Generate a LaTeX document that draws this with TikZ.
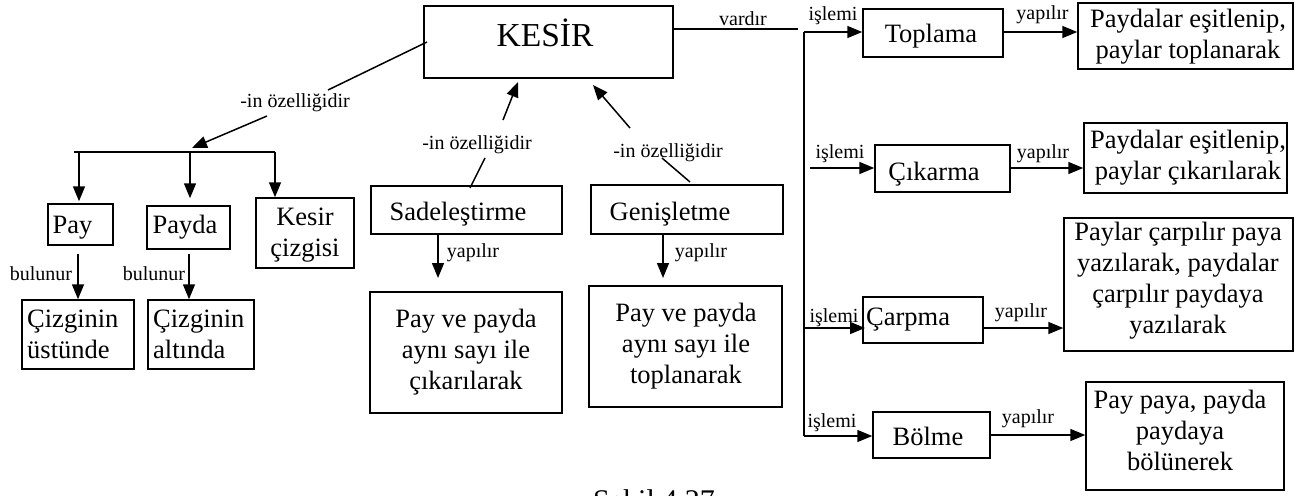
\documentclass[tikz,border=0pt]{standalone}
\usepackage{fontspec}
\setmainfont{Liberation Serif}
\usetikzlibrary{arrows.meta}
\newcommand\mtxt{\fontsize{26.5}{31}\selectfont}
\newcommand\ltxt{\fontsize{20}{24}\selectfont}
\newcommand\ktxt{\fontsize{33.5}{40}\selectfont}
\tikzset{
  box/.style={draw, line width=1.5pt, inner sep=0pt},
  conn/.style={line width=1.5pt},
  arr/.style={conn, -{Triangle[length=15pt,width=12pt]}},
  lbl/.style={font=\ltxt, inner sep=0pt, anchor=base},
  mt/.style={font=\mtxt, inner sep=0pt, anchor=base},
  ml/.style={font=\mtxt, inner sep=0pt, anchor=north, align=center},
}
\begin{document}
\begin{tikzpicture}[x=1pt,y=-1pt]
\useasboundingbox (0,0) rectangle (1316,495);
% boxes
\node[box, minimum width=249pt, minimum height=72pt] (kesir) at (548.5,42) {};
\node[box, minimum width=65pt, minimum height=41pt] (pay) at (80.5,224.5) {};
\node[box, minimum width=83pt, minimum height=43pt] (payda) at (188.5,227.5) {};
\node[box, minimum width=98pt, minimum height=70pt] (cizgi) at (305,233) {};
\node[box, minimum width=112pt, minimum height=69pt] (ustunde) at (78,334.5) {};
\node[box, minimum width=106pt, minimum height=69pt] (altinda) at (201,334.5) {};
\node[box, minimum width=191pt, minimum height=48pt] (sade) at (466.5,210) {};
\node[box, minimum width=192pt, minimum height=49pt] (genis) at (687,209.5) {};
\node[box, minimum width=192pt, minimum height=121pt] (sadeR) at (466,352.5) {};
\node[box, minimum width=193pt, minimum height=121pt] (genisR) at (685.5,346.5) {};
\node[box, minimum width=140pt, minimum height=48pt] (topl) at (933,33) {};
\node[box, minimum width=215pt, minimum height=66pt] (toplR) at (1185.5,36) {};
\node[box, minimum width=135pt, minimum height=47pt] (cik) at (942.5,168.5) {};
\node[box, minimum width=203pt, minimum height=70pt] (cikR) at (1185.5,158) {};
\node[box, minimum width=120pt, minimum height=46pt] (carp) at (923,320) {};
\node[box, minimum width=229pt, minimum height=133pt] (carpR) at (1178.5,284.5) {};
\node[box, minimum width=117pt, minimum height=46pt] (bol) at (931.5,435) {};
\node[box, minimum width=198pt, minimum height=108pt] (bolR) at (1185,436) {};
% box texts
\node[font=\ktxt, inner sep=0pt, anchor=base] (kesir-t) at (545,47) {KESİR};
\node[mt] (pay-t) at (72.5,233) {Pay};
\node[mt] (payda-t) at (185,233) {Payda};
\node[ml] (cizgi-t) at (305,203.3) {\strut Kesir\\çizgisi};
\node[ml, anchor=north west, align=left] (ustunde-t) at (27,305.3) {\strut Çizginin\\üstünde};
\node[ml, anchor=north west, align=left] (altinda-t) at (153,305.3) {\strut Çizginin\\altında};
\node[mt] (sade-t) at (458,220) {Sadeleştirme};
\node[mt] (genis-t) at (670,220) {Genişletme};
\node[ml] (sadeR-t) at (466,305.3) {\strut Pay ve payda\\aynı sayı ile\\çıkarılarak};
\node[ml] (genisR-t) at (686,299.3) {\strut Pay ve payda\\aynı sayı ile\\toplanarak};
\node[mt] (topl-t) at (931,43) {Toplama};
\node[ml] (toplR-t) at (1188,5.3) {\strut Paydalar eşitlenip,\\paylar toplanarak};
\node[mt] (cik-t) at (934,180) {Çıkarma};
\node[ml] (cikR-t) at (1188,126.3) {\strut Paydalar eşitlenip,\\paylar çıkarılarak};
\node[mt, anchor=base west] (carp-t) at (866,325) {Çarpma};
\node[ml] (carpR-t) at (1178,218.3) {\strut Paylar çarpılır paya\\yazılarak, paydalar\\çarpılır paydaya\\yazılarak};
\node[mt] (bol-t) at (928,445) {Bölme};
\node[ml] (bolR-t) at (1180,386.3) {\strut Pay paya, payda\\paydaya\\bölünerek};
% connector points
\coordinate (k1) at (427,42);
\coordinate (k2) at (328,90);
\coordinate (k3) at (267,116);
\coordinate (bartip) at (192,148);
\coordinate (b0) at (74,152);
\coordinate (b1) at (79,152);
\coordinate (b2) at (190,152);
\coordinate (b3) at (275,152);
\coordinate (p1) at (78,254);
\coordinate (p2) at (189,254);
\coordinate (sd1) at (470,188);
\coordinate (sd2) at (485,158);
\coordinate (sd3) at (503,120);
\coordinate (sd4) at (518,82);
\coordinate (gn1) at (690,182);
\coordinate (gn2) at (662,158);
\coordinate (gn3) at (630,128);
\coordinate (gn4) at (593,85);
\coordinate (s1) at (438,234);
\coordinate (s2) at (438,278);
\coordinate (g1) at (663,234);
\coordinate (g2) at (663,278);
\coordinate (v0) at (673,29);
\coordinate (v1) at (798,29);
\coordinate (t0) at (804,32);
\coordinate (t1) at (804,436);
\coordinate (c0) at (810,168);
\coordinate (r0) at (805,328);
\coordinate (r1) at (865,328);
\coordinate (r2) at (983,328);
% connectors
\draw[conn] (k1) -- (k2);
\draw[arr] (k3) -- (bartip);
\draw[conn] (b0) -- (b3);
\draw[arr, shorten >=2pt] (b1) -- (b1 |- pay.north);
\draw[arr, shorten >=7pt] (b2) -- (b2 |- payda.north);
\draw[arr] (b3) -- (b3 |- cizgi.north);
\draw[arr] (p1) -- (ustunde.north);
\draw[arr] (p2) -- (p2 |- altinda.north);
\draw[conn] (sd1) -- (sd2);
\draw[arr] (sd3) -- (sd4);
\draw[conn] (gn1) -- (gn2);
\draw[arr] (gn3) -- (gn4);
\draw[arr] (s1) -- (s2);
\draw[arr] (g1) -- (g2);
\draw[conn] (v0) -- (v1);
\draw[conn] (t0) -- (t1);
\draw[arr] (t0) -- (t0 -| topl.west);
\draw[arr] (c0) -- (c0 -| cik.west);
\draw[arr] (r0) -- (r1);
\draw[arr] (t1) -- (t1 -| bol.west);
\draw[arr] (topl.east |- t0) -- (t0 -| toplR.west);
\draw[arr] (cik.east |- c0) -- (c0 -| cikR.west);
\draw[arr] (r2) -- (r2 -| carpR.west);
\draw[arr] (bol.east) -- (bol.east -| bolR.west);
% labels
\node[lbl] (l-oz0) at (295,107) {-in özelliğidir};
\node[lbl] (l-oz1) at (477,149) {-in özelliğidir};
\node[lbl] (l-oz2) at (668,157) {-in özelliğidir};
\node[lbl] (l-var) at (743,26) {vardır};
\node[lbl] (l-is1) at (833,21) {işlemi};
\node[lbl] (l-is2) at (840,158) {işlemi};
\node[lbl] (l-is3) at (834,322) {işlemi};
\node[lbl] (l-is4) at (832,427) {işlemi};
\node[lbl] (l-yp1) at (1042.5,20) {yapılır};
\node[lbl] (l-yp2) at (1043,158) {yapılır};
\node[lbl] (l-yp3) at (1021,317) {yapılır};
\node[lbl] (l-yp4) at (1028,423) {yapılır};
\node[lbl] (l-yp5) at (473,257) {yapılır};
\node[lbl] (l-yp6) at (701,257) {yapılır};
\node[lbl] (l-bu1) at (41,280) {bulunur};
\node[lbl] (l-bu2) at (154,280) {bulunur};
% caption (cut by the page edge)
\node[font=\fontsize{30}{36}\selectfont, inner sep=0pt, anchor=base] (cap) at (654,510) {Şekil 4.27};
\end{tikzpicture}
\end{document}
